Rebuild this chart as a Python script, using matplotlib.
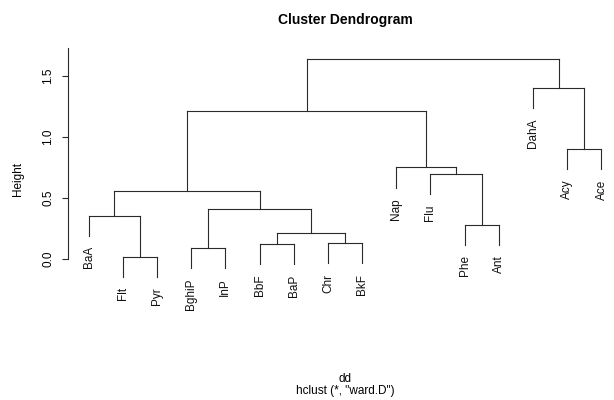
import matplotlib
matplotlib.use("Agg")
import matplotlib.pyplot as plt

plt.rcParams['font.family'] = ['Liberation Sans', 'DejaVu Sans']

# leaf order as drawn
labels = ["BaA", "Flt", "Pyr", "BghiP", "InP", "BbF", "BaP", "Chr", "BkF",
          "Nap", "Flu", "Phe", "Ant", "DahA", "Acy", "Ace"]

# merges, R style: negative = leaf (1-based), positive = earlier merge step
merge_a = [-2, -4, -6, -8, 3, -12, -1, 2, 7, -11, -10, -15, 9, -14, 13]
merge_b = [-3, -5, -7, -9, 4, -13, 1, 5, 8, 6, 10, -16, 11, 12, 14]
heights = [0.02, 0.09, 0.12, 0.13, 0.215, 0.28, 0.355, 0.41, 0.56,
           0.70, 0.75, 0.90, 1.215, 1.40, 1.64]

hang = 0.1 * max(heights)

fig = plt.figure(figsize=(6.14, 4.0), dpi=100)
ax = fig.add_axes([68 / 614, 0.25, 554 / 614, 0.6375])
ax.set_xlim(0.4, 16.6)
ax.set_ylim(-0.336, 1.754)

col = "#2a2a2a"
lw = 0.8
xpos = {}
for i, (a, b, h) in enumerate(zip(merge_a, merge_b, heights), start=1):
    xs = []
    for c in (a, b):
        if c < 0:
            x = -c
            y0 = h - hang
            ax.annotate(labels[x - 1], (x, y0), xytext=(0, -7.5), textcoords="offset points",
                        rotation=90, ha="center", va="top", fontsize=8.5, color="#111111")
        else:
            x, y0 = xpos[c], heights[c - 1]
        xs.append(x)
        ax.plot([x, x], [y0, h], color=col, lw=lw)
    ax.plot(xs, [h, h], color=col, lw=lw)
    xpos[i] = sum(xs) / 2

for s in ["top", "right", "bottom"]:
    ax.spines[s].set_visible(False)
ax.spines["left"].set_bounds(0, 1.73)
ax.spines["left"].set_color(col)
ax.spines["left"].set_linewidth(lw)
ax.set_xticks([])
ax.set_yticks([0, 0.5, 1.0, 1.5])
ax.set_yticklabels(["0.0", "0.5", "1.0", "1.5"], rotation=90, va="center", fontsize=8.5)
ax.tick_params(axis="y", length=4, width=lw, color=col, pad=6)

fig.text(18 / 614, 1 - 179 / 400, "Height", rotation=90, ha="center", va="center", fontsize=8.5)
fig.text(345 / 614, 1 - 20 / 400, "Cluster Dendrogram", ha="center", va="center",
         fontsize=10, fontweight="bold")
fig.text(345 / 614, 1 - 379 / 400, "dd", ha="center", va="center", fontsize=8.5)
fig.text(345 / 614, 1 - 391 / 400, 'hclust (*, "ward.D")', ha="center", va="center", fontsize=8.5)

fig.savefig("out.png", dpi=100)
